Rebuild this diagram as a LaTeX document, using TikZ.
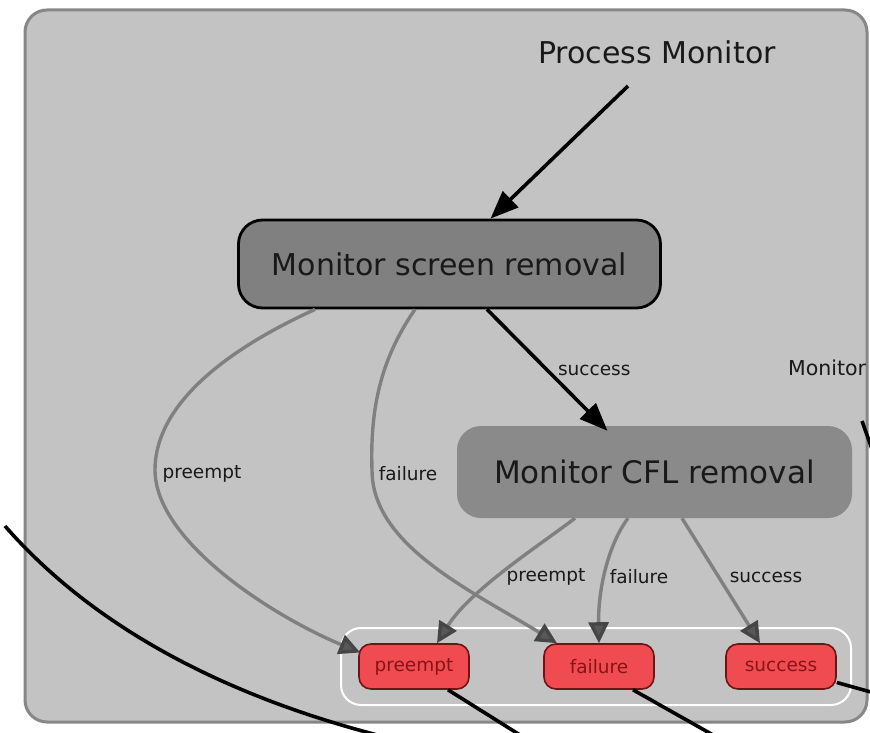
\documentclass[tikz,border=0pt]{standalone}
\usepackage{fontspec}
\setmainfont{DejaVu Sans}
\usetikzlibrary{arrows.meta,calc}
\definecolor{boxgray}{RGB}{195,195,195}
\definecolor{boxedge}{RGB}{135,135,135}
\definecolor{msrfill}{RGB}{128,128,128}
\definecolor{cflfill}{RGB}{138,138,138}
\definecolor{edgegray}{RGB}{128,128,128}
\definecolor{tipgray}{RGB}{88,88,88}
\definecolor{tipdark}{RGB}{70,70,70}
\definecolor{redfill}{RGB}{240,75,80}
\definecolor{rededge}{RGB}{110,20,20}
\definecolor{redtext}{RGB}{135,20,25}
\definecolor{labtext}{RGB}{25,25,25}
\tikzset{
  bigtext/.style={font=\fontsize{30}{36}\selectfont, text=labtext},
  msrbox/.style={draw=black, line width=2.8pt, fill=msrfill, rounded corners=24pt,
    minimum width=422pt, minimum height=88pt, inner sep=0pt, font=\fontsize{30}{36}\selectfont, text=labtext},
  cflbox/.style={fill=cflfill, rounded corners=24pt,
    minimum width=395pt, minimum height=92pt, inner sep=0pt, font=\fontsize{31}{37}\selectfont, text=labtext},
  outbox/.style={draw=rededge, line width=1.6pt, fill=redfill, rounded corners=12pt,
    minimum width=110pt, minimum height=45pt, inner sep=0pt, font=\fontsize{18.5}{22}\selectfont, text=redtext},
  elab/.style={font=\fontsize{18.5}{22}\selectfont, text=labtext, inner sep=1pt},
  grayedge/.style={draw=edgegray, line width=3.4pt, -{Triangle[length=21pt,width=20pt,color=tipdark,fill=tipgray]}},
  blackedge/.style={draw=black, line width=3.6pt, -{Triangle[length=28pt,width=22pt,fill=black]}},
  blackline/.style={draw=black, line width=3.6pt},
}
\begin{document}
\begin{tikzpicture}[x=1pt,y=-1pt]
\clip (0,0) rectangle (870,733);
\fill[white] (0,0) rectangle (870,733);
% outer container
\draw[draw=boxedge, line width=3pt, fill=boxgray, rounded corners=22pt] (25,10) rectangle (867,722);
% outcome container
\draw[draw=white, line width=2pt, rounded corners=20pt] (341,628) rectangle (851,705);

\node[bigtext] (pm) at (657,52) {Process Monitor};
\coordinate (pmstart) at (628,86);
\node[msrbox] (msr) at (449.5,264) {Monitor screen removal};
\node[cflbox] (cfl) at (654.5,472) {Monitor CFL removal};
\node[elab, anchor=west, font=\fontsize{20.5}{24}\selectfont] (mon) at (787,368) {Monitor};

\node[outbox] (pre) at (414,666.5) {preempt};
\node[outbox] (fail) at (599,666.5) {failure};
\node[outbox] (succ) at (781,666.5) {success};

% black arrows
\draw[blackedge] (pmstart) -- ([xshift=41pt]msr.north);
\draw[blackedge] ([xshift=37.5pt]msr.south) -- ([xshift=-47pt,yshift=-5pt]cfl.north)
  node[elab, pos=0.5, right=8pt] (lsucc) {success};

% gray edges from msr
\draw[grayedge] ([xshift=-134.5pt]msr.south) .. controls (215,355) and (155,410) .. (155,470)
  .. controls (155,540) and (270,615) .. ([xshift=2pt,yshift=14pt]pre.west);
\node[elab] (lpre1) at (202,474) {preempt};
\draw[grayedge] ([xshift=-34.5pt]msr.south) .. controls (380,360) and (370,410) .. (372,470)
  .. controls (372,545) and (470,590) .. ([xshift=-42pt]fail.north);
\node[elab] (lfail1) at (408,474) {failure};

% gray edges from cfl
\draw[grayedge] ([xshift=-79.5pt]cfl.south) .. controls (540,545) and (470,590) .. ([xshift=23pt]pre.north);
\node[elab] (lpre2) at (546,577) {preempt};
\draw[grayedge] ([xshift=-26.5pt]cfl.south) .. controls (608,545) and (598,590) .. (fail.north);
\node[elab] (lfail2) at (639,577) {failure};
\draw[grayedge] ([xshift=27.5pt]cfl.south) -- ([xshift=-21pt]succ.north);
\node[elab] (lsucc2) at (766,577) {success};

% black outgoing lines
\coordinate (preout) at (528,740);
\coordinate (failout) at (722,740);
\coordinate (succout) at (878,694);
\draw[blackline] ([xshift=34pt]pre.south) -- (preout);
\draw[blackline] ([xshift=34pt]fail.south) -- (failout);
\draw[blackline] ([yshift=-16pt]succ.east) -- (succout);
\coordinate (lcurveA) at (5,526);
\coordinate (lcurveB) at (385,737);
\draw[blackline] (lcurveA) .. controls (80,612) and (200,690) .. (lcurveB);
\coordinate (rstubA) at (862,421);
\coordinate (rstubB) at (873,452);
\draw[blackline] (rstubA) -- (rstubB);
\end{tikzpicture}
\end{document}
